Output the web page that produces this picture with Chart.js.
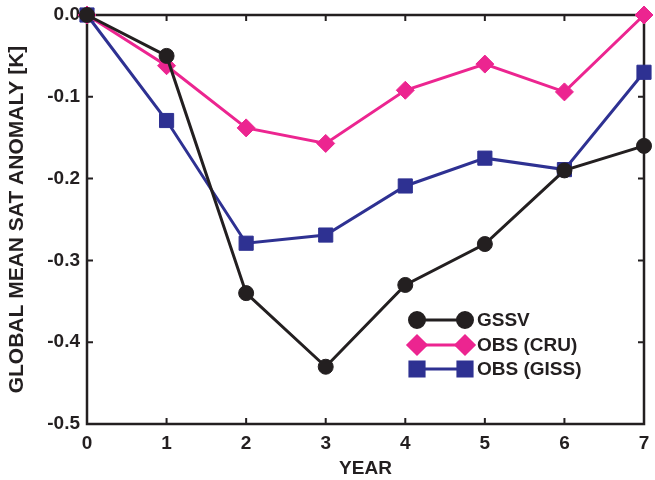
<!DOCTYPE html>
<html lang="en">
<head>
    <meta charset="UTF-8">
    <title>Global mean SAT anomaly</title>
    <script src="https://cdn.jsdelivr.net/npm/chart.js"></script>
</head>
<style>
    body {
        margin: 0;
        padding: 0;
        background-color: #FFF;
    }

    .caixa {
        width: 655px;
        height: 480px;
    }
</style>
<body>
    <div class="caixa">
        <canvas id="grafico"></canvas>
    </div>
</body>
</html>

<script>
    // dados
    const anos = [0, 1, 2, 3, 4, 5, 6, 7];
    const gssv = [0.0, -0.05, -0.34, -0.43, -0.33, -0.28, -0.19, -0.16];
    const obsCru = [0.0, -0.062, -0.138, -0.157, -0.092, -0.06, -0.094, 0.0];
    const obsGiss = [0.0, -0.129, -0.279, -0.269, -0.209, -0.175, -0.189, -0.07];
    const ticksY = [0, -0.1, -0.2, -0.3, -0.4, -0.5];

    const PRETO = '#231f20';
    const ROSA = '#ec2590';
    const AZUL = '#2e3192';
    const FONTE = '"Liberation Sans", Arial, sans-serif';

    function serie(nome, valores, cor, forma, raio) {
        return {
            label: nome,
            data: anos.map((a, i) => ({ x: a, y: valores[i] })),
            borderColor: cor,
            backgroundColor: cor,
            borderWidth: 3,
            pointStyle: forma,
            pointRadius: raio,
            pointHoverRadius: raio,
            pointBorderWidth: 1,
            clip: false
        };
    }

    // moldura + ticks para dentro (em todos os lados)
    const moldura = {
        id: 'moldura',
        beforeDatasetsDraw(chart) {
            const ctx = chart.ctx;
            const a = chart.chartArea;
            const sx = chart.scales.x;
            const sy = chart.scales.y;
            ctx.save();
            ctx.strokeStyle = PRETO;
            ctx.lineWidth = 2;
            ctx.beginPath();
            anos.forEach(v => {
                const px = sx.getPixelForValue(v);
                ctx.moveTo(px, a.bottom); ctx.lineTo(px, a.bottom - 6);
                ctx.moveTo(px, a.top); ctx.lineTo(px, a.top + 6);
            });
            ticksY.forEach(v => {
                const py = sy.getPixelForValue(v);
                ctx.moveTo(a.left, py); ctx.lineTo(a.left + 6, py);
                ctx.moveTo(a.right, py); ctx.lineTo(a.right - 6, py);
            });
            ctx.stroke();
            ctx.lineWidth = 2.5;
            ctx.strokeRect(a.left, a.top, a.right - a.left, a.bottom - a.top);
            ctx.restore();
        },
        afterDraw(chart) {
            // legenda dentro do gráfico, linha com marcador nas duas pontas
            const ctx = chart.ctx;
            const x0 = 417, x1 = 465, xt = 477;
            const linhas = [320, 345, 369];
            ctx.save();
            chart.data.datasets.forEach((ds, i) => {
                const y = linhas[i];
                ctx.strokeStyle = ds.borderColor;
                ctx.fillStyle = ds.backgroundColor;
                ctx.lineWidth = 3;
                ctx.beginPath();
                ctx.moveTo(x0, y); ctx.lineTo(x1, y);
                ctx.stroke();
                [x0, x1].forEach(px => {
                    Chart.helpers.drawPoint(ctx, {
                        pointStyle: ds.pointStyle,
                        radius: ds.pointRadius,
                        borderWidth: 1
                    }, px, y);
                });
                ctx.fillStyle = PRETO;
                ctx.font = 'bold 19px ' + FONTE;
                ctx.textBaseline = 'middle';
                ctx.fillText(ds.label, xt, y + 1);
            });
            ctx.restore();
        }
    };

    new Chart(document.getElementById('grafico'), {
        type: 'line',
        data: {
            datasets: [
                serie('GSSV', gssv, PRETO, 'circle', 7.5),
                serie('OBS (CRU)', obsCru, ROSA, 'rectRot', 9),
                serie('OBS (GISS)', obsGiss, AZUL, 'rect', 10)
            ]
        },
        options: {
            responsive: true,
            maintainAspectRatio: false,
            animation: false,
            layout: { padding: { top: 15, right: 10, left: 0, bottom: 0 } },
            plugins: {
                legend: { display: false },
                tooltip: { enabled: false }
            },
            scales: {
                x: {
                    type: 'linear',
                    min: 0,
                    max: 7,
                    afterFit(s) { s.height = 56; s.paddingLeft = 0; s.paddingRight = 0; },
                    afterBuildTicks(s) { s.ticks = anos.map(v => ({ value: v })); },
                    grid: { drawOnChartArea: false, drawTicks: false },
                    border: { display: false },
                    ticks: {
                        color: PRETO,
                        padding: 8,
                        font: { family: FONTE, size: 19, weight: 'bold' }
                    },
                    title: {
                        display: true,
                        text: 'YEAR',
                        color: PRETO,
                        padding: { top: 0, bottom: 0 },
                        font: { family: FONTE, size: 19, weight: 'bold' }
                    }
                },
                y: {
                    min: -0.5,
                    max: 0,
                    afterFit(s) { s.width = 87; s.paddingTop = 0; s.paddingBottom = 0; },
                    afterBuildTicks(s) { s.ticks = ticksY.map(v => ({ value: v })); },
                    grid: { drawOnChartArea: false, drawTicks: false },
                    border: { display: false },
                    ticks: {
                        color: PRETO,
                        padding: 7,
                        font: { family: FONTE, size: 19, weight: 'bold' },
                        callback: v => v.toFixed(1)
                    },
                    title: {
                        display: true,
                        text: 'GLOBAL MEAN SAT ANOMALY [K]',
                        color: PRETO,
                        padding: { top: 5, bottom: 0 },
                        font: { family: FONTE, size: 21, weight: 'bold' }
                    }
                }
            }
        },
        plugins: [moldura]
    });
</script>
